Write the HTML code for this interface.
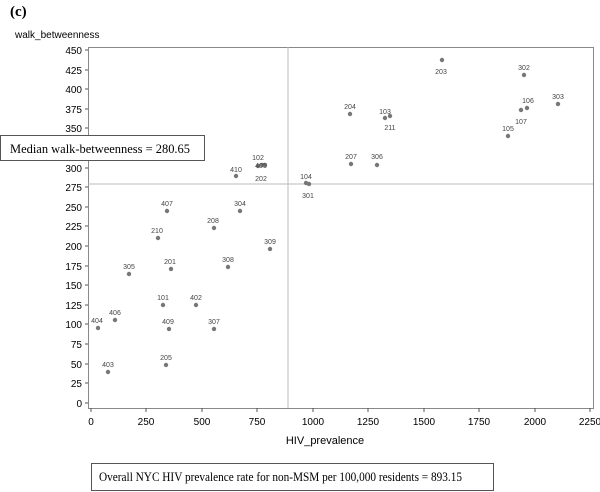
<!DOCTYPE html>
<html><head><style>
body{margin:0;background:#fff;width:600px;height:492px;overflow:hidden}
svg{display:block}
.t{font-family:"Liberation Sans",sans-serif;font-size:10px;fill:#000}
.p{font-family:"Liberation Sans",sans-serif;font-size:7px;fill:#444;text-anchor:middle}
.s{font-family:"Liberation Serif",serif;font-size:13px;fill:#000}
</style></head><body>
<svg width="600" height="492" xmlns="http://www.w3.org/2000/svg">
<text x="10" y="16" font-family="Liberation Serif,serif" font-weight="bold" font-size="15">(c)</text>
<text x="15" y="38" class="t" font-size="11">walk_betweenness</text>
<rect x="88.5" y="47.5" width="505" height="361" fill="none" stroke="#888" stroke-width="1"/>
<line x1="288" y1="47" x2="288" y2="408" stroke="#bbb"/>
<line x1="88" y1="184" x2="593" y2="184" stroke="#bbb"/>
<g stroke="#555">
<line x1="85" y1="50" x2="88" y2="50"/><line x1="85" y1="70" x2="88" y2="70"/><line x1="85" y1="89" x2="88" y2="89"/><line x1="85" y1="109" x2="88" y2="109"/><line x1="85" y1="128" x2="88" y2="128"/><line x1="85" y1="148" x2="88" y2="148"/><line x1="85" y1="168" x2="88" y2="168"/><line x1="85" y1="187" x2="88" y2="187"/><line x1="85" y1="207" x2="88" y2="207"/><line x1="85" y1="226" x2="88" y2="226"/><line x1="85" y1="246" x2="88" y2="246"/><line x1="85" y1="266" x2="88" y2="266"/><line x1="85" y1="285" x2="88" y2="285"/><line x1="85" y1="305" x2="88" y2="305"/><line x1="85" y1="324" x2="88" y2="324"/><line x1="85" y1="344" x2="88" y2="344"/><line x1="85" y1="364" x2="88" y2="364"/><line x1="85" y1="383" x2="88" y2="383"/><line x1="85" y1="403" x2="88" y2="403"/>
<line x1="91" y1="408" x2="91" y2="412"/><line x1="146" y1="408" x2="146" y2="412"/><line x1="202" y1="408" x2="202" y2="412"/><line x1="257" y1="408" x2="257" y2="412"/><line x1="313" y1="408" x2="313" y2="412"/><line x1="368" y1="408" x2="368" y2="412"/><line x1="424" y1="408" x2="424" y2="412"/><line x1="479" y1="408" x2="479" y2="412"/><line x1="535" y1="408" x2="535" y2="412"/><line x1="590" y1="408" x2="590" y2="412"/>
</g>
<g class="t" text-anchor="end">
<text x="82" y="54">450</text><text x="82" y="74">425</text><text x="82" y="93">400</text><text x="82" y="113">375</text><text x="82" y="132">350</text><text x="82" y="152">325</text><text x="82" y="172">300</text><text x="82" y="191">275</text><text x="82" y="211">250</text><text x="82" y="230">225</text><text x="82" y="250">200</text><text x="82" y="270">175</text><text x="82" y="289">150</text><text x="82" y="309">125</text><text x="82" y="328">100</text><text x="82" y="348">75</text><text x="82" y="368">50</text><text x="82" y="387">25</text><text x="82" y="407">0</text>
</g>
<g class="t" text-anchor="middle">
<text x="91" y="425">0</text><text x="146" y="425">250</text><text x="202" y="425">500</text><text x="257" y="425">750</text><text x="313" y="425">1000</text><text x="368" y="425">1250</text><text x="424" y="425">1500</text><text x="479" y="425">1750</text><text x="535" y="425">2000</text><text x="590" y="425">2250</text>
<text x="325" y="444" font-size="11">HIV_prevalence</text>
</g>
<g fill="#777">
<circle cx="442" cy="60" r="2.2"/><circle cx="524" cy="75" r="2.2"/><circle cx="558" cy="104" r="2.2"/><circle cx="527" cy="108" r="2.2"/><circle cx="521" cy="110" r="2.2"/><circle cx="508" cy="136" r="2.2"/>
<circle cx="350" cy="114" r="2.2"/><circle cx="385" cy="118" r="2.2"/><circle cx="390" cy="116" r="2.2"/><circle cx="351" cy="164" r="2.2"/><circle cx="377" cy="165" r="2.2"/>
<circle cx="306" cy="183" r="2.2"/><circle cx="309" cy="184" r="2.2"/>
<circle cx="258" cy="166" r="2.2"/><circle cx="262" cy="165" r="2.2"/><circle cx="265" cy="165" r="2.2"/><circle cx="236" cy="176" r="2.2"/>
<circle cx="167" cy="211" r="2.2"/><circle cx="240" cy="211" r="2.2"/><circle cx="214" cy="228" r="2.2"/><circle cx="158" cy="238" r="2.2"/><circle cx="270" cy="249" r="2.2"/>
<circle cx="129" cy="274" r="2.2"/><circle cx="171" cy="269" r="2.2"/><circle cx="228" cy="267" r="2.2"/><circle cx="163" cy="305" r="2.2"/><circle cx="196" cy="305" r="2.2"/>
<circle cx="115" cy="320" r="2.2"/><circle cx="98" cy="328" r="2.2"/><circle cx="169" cy="329" r="2.2"/><circle cx="214" cy="329" r="2.2"/><circle cx="108" cy="372" r="2.2"/><circle cx="166" cy="365" r="2.2"/>
</g>
<g class="p">
<text x="441" y="74">203</text><text x="524" y="70">302</text><text x="558" y="99">303</text><text x="528" y="103">106</text><text x="521" y="124">107</text><text x="508" y="131">105</text>
<text x="350" y="109">204</text><text x="385" y="114">103</text><text x="390" y="130">211</text><text x="351" y="159">207</text><text x="377" y="159">306</text>
<text x="306" y="179">104</text><text x="308" y="198">301</text>
<text x="258" y="160">102</text><text x="261" y="168">405</text><text x="261" y="181">202</text><text x="236" y="172">410</text>
<text x="167" y="206">407</text><text x="240" y="206">304</text><text x="213" y="223">208</text><text x="157" y="233">210</text><text x="270" y="244">309</text>
<text x="129" y="269">305</text><text x="170" y="264">201</text><text x="228" y="262">308</text><text x="163" y="300">101</text><text x="196" y="300">402</text>
<text x="115" y="315">406</text><text x="97" y="323">404</text><text x="168" y="324">409</text><text x="214" y="324">307</text><text x="108" y="367">403</text><text x="166" y="360">205</text>
</g>
<rect x="0.5" y="135.5" width="204" height="25" fill="#fff" stroke="#555"/>
<text x="10" y="153" class="s" textLength="180" lengthAdjust="spacingAndGlyphs">Median walk-betweenness = 280.65</text>
<rect x="91.5" y="463.5" width="402" height="27" fill="#fff" stroke="#555"/>
<text x="99" y="481" class="s" font-size="12" textLength="363" lengthAdjust="spacingAndGlyphs">Overall NYC HIV prevalence rate for non-MSM per 100,000 residents = 893.15</text>
</svg>
</body></html>
